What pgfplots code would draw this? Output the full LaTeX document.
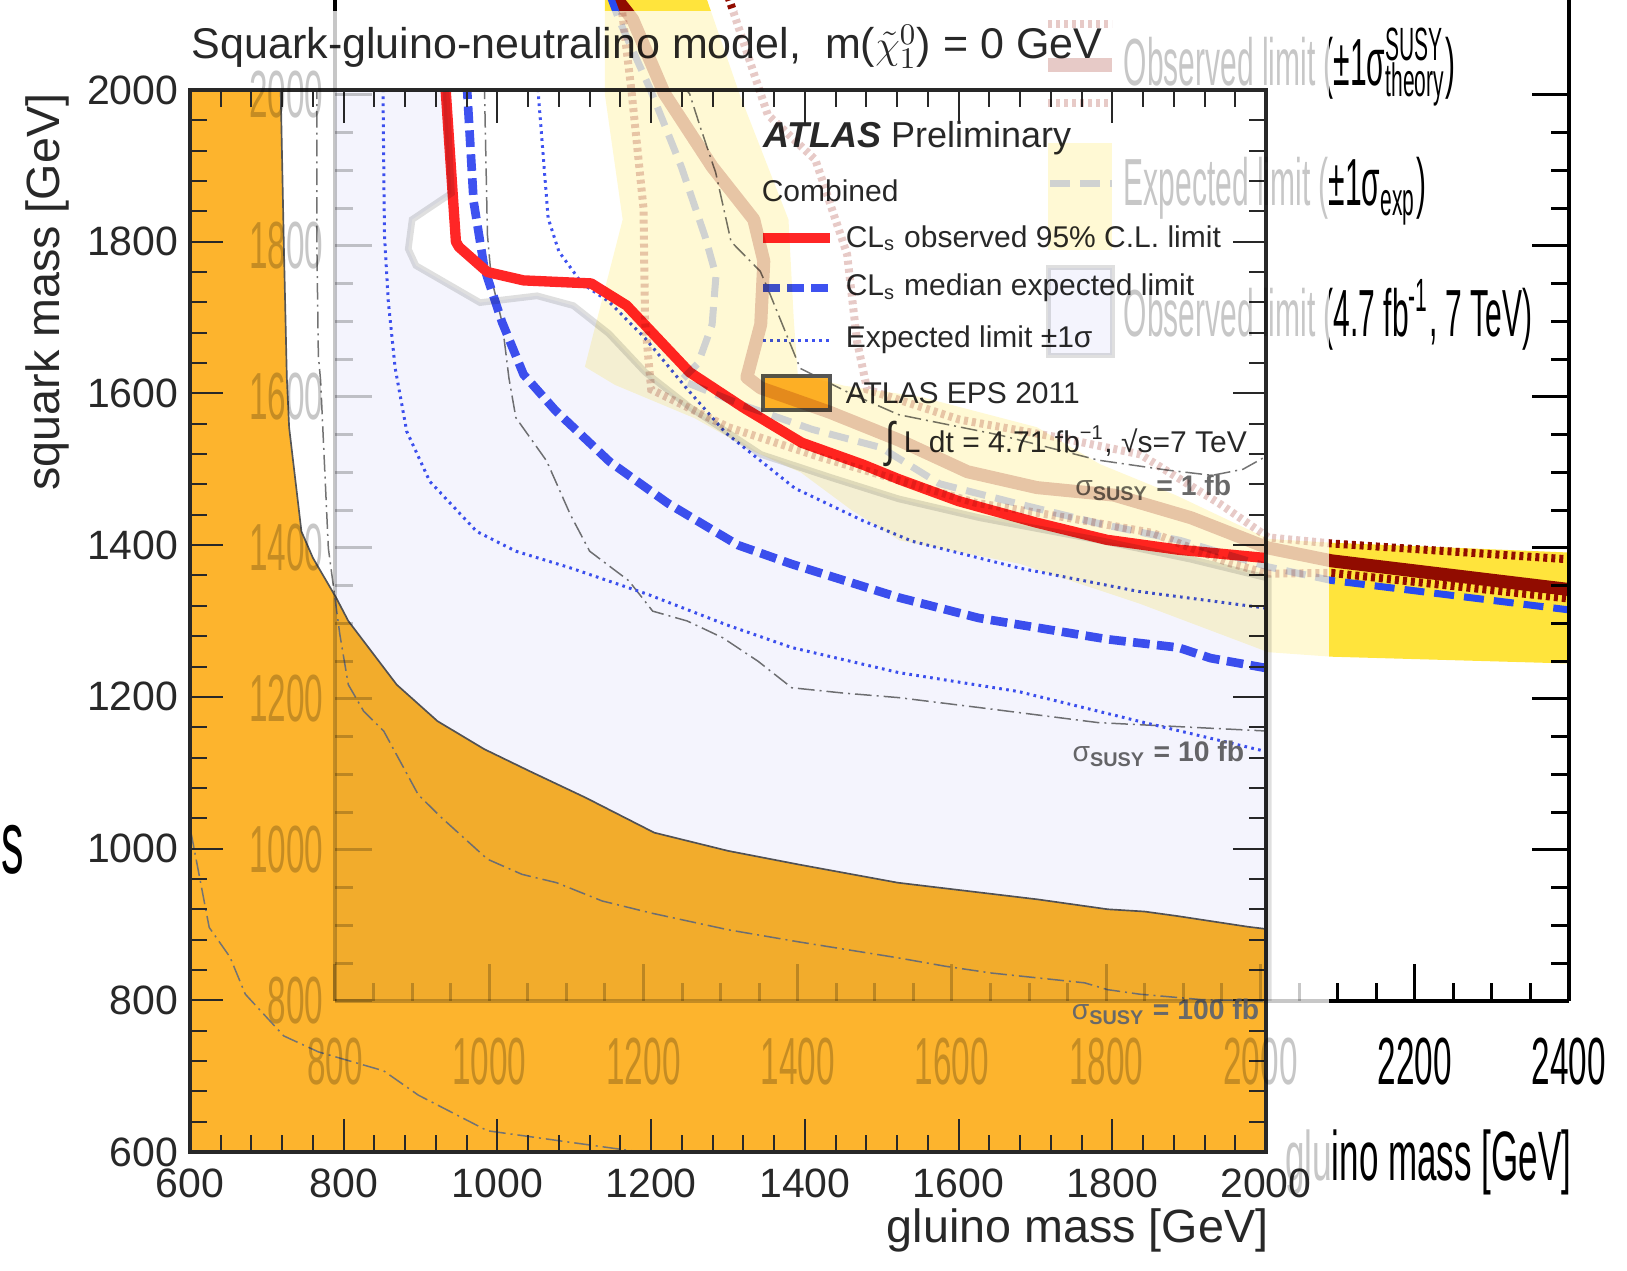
\documentclass[border=0pt]{standalone}
\usepackage{pgfplots}
\pgfplotsset{compat=1.18}
\usepackage{fontspec}
\setmainfont{Liberation Sans}
\newfontfamily\bgfont[FakeStretch=0.5]{Liberation Sans}
\newfontfamily\bgleg[FakeStretch=0.45]{Liberation Sans}

\definecolor{orangeF}{RGB}{253,180,45}
\definecolor{edgegray}{RGB}{85,85,85}
\definecolor{mainred}{RGB}{255,38,38}
\definecolor{mainblue}{RGB}{62,82,240}
\definecolor{sigline}{RGB}{115,115,115}
\definecolor{sigtext}{RGB}{105,105,105}
\definecolor{axisgray}{RGB}{40,40,40}
\definecolor{bgyellow}{RGB}{255,228,60}
\definecolor{bgdarkred}{RGB}{145,12,0}
\definecolor{bgblue}{RGB}{40,75,240}
\definecolor{bglav}{RGB}{205,207,245}
\definecolor{bgline}{RGB}{110,110,110}

\tikzset{
  sigma line/.style={sigline, line width=0.45pt, dash pattern=on 5pt off 1.5pt on 0.6pt off 1.5pt},
  exp band/.style={mainblue, line width=0.9pt, dash pattern=on 0.8pt off 1.3pt},
}

% the older plot that shows through the main one
\newcommand{\bgplot}{%
\begin{axis}[
  at={(100.5pt,80.7pt)}, anchor=south west, scale only axis,
  width=370.2pt, height=300.3pt,
  xmin=800, xmax=2400, ymin=800, ymax=2125.8,
  axis x line*=bottom, axis y line*=box,
  xtick={800,1000,...,2400}, ytick={800,1000,...,2000},
  minor x tick num=3, minor y tick num=3,
  tick align=inside, yticklabel pos=left,
  major tick length=11pt, minor tick length=5.5pt,
  axis line style={line width=1.1pt, black},
  tick style={line width=0.9pt, black},
  ticklabel style={font=\bgfont\fontsize{20}{20}\selectfont},
  xticklabel style={yshift=-7.5pt},
  /pgf/number format/assume math mode=true,
  /pgf/number format/1000 sep={},
  axis on top,
]
% observed limit 4.7 fb-1, 7 TeV
\addplot[fill=bglav, draw=none] coordinates {
  (800,800) (800,2005) (944,2005) (951,1870) (900,1835) (895,1796)
  (905,1774) (988,1725) (1062,1734) (1109,1721) (1155,1684) (1202,1633)
  (1262,1585) (1352,1524) (1441,1494) (1531,1465) (1636,1440) (1792,1410)
  (1910,1385) (2010,1360) (2010,800)} -- cycle;
\addplot[bgline, line width=2pt] coordinates {
  (944,2005) (951,1870) (900,1835) (895,1796)
  (905,1774) (988,1725) (1062,1734) (1109,1721) (1155,1684) (1202,1633)
  (1262,1585) (1352,1524) (1441,1494) (1531,1465) (1636,1440) (1792,1410)
  (1910,1385) (2010,1360) (2010,800)};
% expected +-1 sigma band
\addplot[fill=bgyellow, draw=none] coordinates {
  (1150,2130) (1150,2000) (1173,1835) (1124,1640) (1163,1616) (1266,1572)
  (1343,1528) (1404,1500) (1470,1450) (1532,1410) (1688,1379) (1844,1326)
  (2010,1262) (2092,1256) (2400,1247)
  (2400,1394) (2092,1407) (2010,1412) (1890,1470) (1792,1511) (1710,1560)
  (1560,1600) (1460,1615) (1400,1630) (1395,1700) (1388,1835) (1325,2000)
  (1281,2130)} -- cycle;
% +-1 sigma theory
\addplot[bgdarkred, line width=2.4pt, dash pattern=on 1.2pt off 1.2pt] coordinates {
  (1310,2130) (1361,1974) (1423,1914) (1464,1789) (1477,1673) (1490,1610)
  (1610,1570) (1740,1546) (1844,1524) (1948,1458) (2010,1414) (2092,1406)
  (2400,1385)};
\addplot[bgdarkred, line width=2.4pt, dash pattern=on 1.2pt off 1.2pt] coordinates {
  (1170,2130) (1185,2000) (1200,1850) (1202,1700) (1210,1610) (1310,1560)
  (1430,1520) (1530,1490) (1630,1460) (1750,1440) (1860,1420) (1960,1380)
  (2010,1366) (2092,1367) (2400,1333)};
% observed limit
\addplot[bgdarkred, line width=3.9pt, line join=round] coordinates {
  (1163,2130) (1186,2100) (1227,2002) (1289,1905) (1343,1835) (1356,1780)
  (1352,1696) (1334,1626) (1352,1612) (1441,1580) (1531,1543) (1620,1501)
  (1710,1480) (1810,1470) (1910,1440) (2010,1400) (2092,1383) (2400,1345)};
% expected limit
\addplot[bgblue, line width=2.1pt, dash pattern=on 6pt off 3pt] coordinates {
  (1157,2130) (1168,2100) (1209,2007) (1249,1905) (1280,1812) (1294,1761)
  (1289,1696) (1271,1645) (1249,1622) (1329,1589) (1419,1557) (1508,1533)
  (1584,1485) (1688,1458) (1792,1432) (1896,1410) (2010,1375) (2092,1357)
  (2400,1318)};
\end{axis}
\begin{scope}[x=0.3pt, y=-0.3pt, shift={(0pt,381pt)}]
  \node[anchor=east, font=\bgfont\fontsize{21}{21}\selectfont] at (1583,1162) {gluino mass [GeV]};
  \node[anchor=west, font=\bgfont\fontsize{27}{27}\selectfont] at (-10,850) {s};
  % legend
  \fill[bgdarkred] (1048,58) rectangle (1112,72);
  \draw[bgdarkred, line width=2.4pt, dash pattern=on 1.2pt off 1.2pt] (1048,24) -- (1112,24);
  \draw[bgdarkred, line width=2.4pt, dash pattern=on 1.2pt off 1.2pt] (1048,103) -- (1112,103);
  \fill[bgyellow] (1048,143) rectangle (1112,250);
  \draw[bgblue, line width=2.1pt, dash pattern=on 6pt off 3pt] (1050,184) -- (1112,184);
  \filldraw[fill=bglav, draw=bgline, line width=1.5pt] (1048,268) rectangle (1112,355);
  \begin{scope}[every node/.style={anchor=west, font=\bgleg\fontsize{20}{20}\selectfont}]
    \node at (1112,67) {Observed limit (±1σ\rlap{\textsuperscript{SUSY}}\textsubscript{theory})};
    \node at (1112,191) {Expected limit (±1σ\textsubscript{exp})};
    \node at (1112,315) {Observed limit (4.7 fb\textsuperscript{-1}, 7 TeV)};
  \end{scope}
\end{scope}
}

\begin{document}
\begin{tikzpicture}
\useasboundingbox (0pt,0pt) rectangle (488.1pt,381pt);

% ---------- main plot ----------
\begin{axis}[
  at={(57pt,35.4pt)}, anchor=south west, scale only axis,
  width=322.8pt, height=318.6pt,
  xmin=600, xmax=2000, ymin=600, ymax=2000,
  xtick={600,800,...,2000}, ytick={600,800,...,2000},
  minor tick num=4, tick align=inside,
  major tick length=10pt, minor tick length=5pt,
  axis line style={line width=1.1pt, color=axisgray},
  tick style={line width=0.6pt, color=axisgray},
  ticklabel style={font=\fontsize{12.3}{14}\selectfont, color=axisgray},
  xticklabel style={yshift=-1.5pt},
  /pgf/number format/assume math mode=true,
  /pgf/number format/1000 sep={},
  axis on top,
]
% ATLAS EPS 2011
\addplot[fill=orangeF, draw=edgegray, line width=0.5pt] coordinates {
  (600,600) (600,2000) (718,2000) (722,1800) (726,1620) (729,1555) (745,1418)
  (760,1383) (790,1331) (806,1300) (869,1216) (922,1168) (983,1131) (1042,1102)
  (1115,1067) (1204,1021) (1300,997) (1392,979) (1521,955) (1612,944) (1703,933)
  (1794,920) (1842,917) (1885,911) (1976,897) (2000,894) (2000,600)} -- cycle;
% sigma_SUSY contours
\addplot[sigma line] coordinates {
  (596,1060) (600,1028) (625,896) (652,857) (672,808) (722,753) (767,732)
  (852,707) (897,675) (987,628) (1136,607) (1200,598)};
\addplot[sigma line] coordinates {
  (765,2010) (765,1800) (767,1650) (770,1616) (780,1396) (788,1335) (795,1282)
  (806,1216) (826,1181) (852,1155) (897,1071) (927,1041) (987,986) (1032,966)
  (1077,955) (1136,931) (1200,915) (1300,893) (1392,877) (1521,856) (1582,845)
  (1642,836) (1764,823) (1794,814) (1836,808) (1915,801) (2000,799)};
\addplot[sigma line] coordinates {
  (983,2010) (987,1809) (992,1752) (1006,1694) (1015,1620) (1024,1568)
  (1064,1511) (1095,1440) (1120,1392) (1171,1353) (1202,1313) (1247,1300)
  (1293,1278) (1339,1247) (1383,1212) (1450,1205) (1522,1199) (1626,1186)
  (1782,1166) (2000,1155)};
\addplot[sigma line] coordinates {
  (1238,2010) (1250,1995) (1264,1951) (1284,1891) (1304,1800) (1342,1761)
  (1351,1740) (1394,1633) (1459,1600) (1522,1572) (1654,1545) (1782,1512)
  (1871,1499) (1930,1492) (1970,1500) (2000,1517)};
% expected limit +-1 sigma
\addplot[exp band] coordinates {
  (851,2010) (853,1809) (858,1721) (867,1633) (882,1550) (912,1484) (973,1418)
  (1024,1392) (1095,1370) (1196,1335) (1298,1295) (1383,1265) (1522,1232)
  (1678,1207) (1834,1168) (2000,1128)};
\addplot[exp band] coordinates {
  (1052,2010) (1066,1831) (1080,1787) (1110,1745) (1145,1721) (1192,1673)
  (1245,1608) (1297,1548) (1387,1475) (1476,1432) (1540,1405) (1678,1370)
  (1834,1339) (2000,1317)};
% median expected
\addplot[mainblue, line width=2.6pt, dash pattern=on 5pt off 2.2pt] coordinates {
  (960,2010) (969,1853) (983,1765) (1006,1694) (1034,1625) (1075,1578)
  (1146,1510) (1222,1455) (1313,1400) (1383,1375) (1522,1331) (1626,1304)
  (1793,1276) (1886,1265) (1928,1251) (2000,1238)};
% observed
\addplot[mainred, line width=3.1pt, line join=round] coordinates {
  (932,2010) (946,1800) (950,1793) (987,1760) (1034,1749) (1122,1745)
  (1168,1716) (1250,1628) (1319,1582) (1396,1535) (1476,1506) (1522,1487)
  (1600,1458) (1700,1430) (1793,1407) (1886,1394) (2000,1383)};
\end{axis}

\begin{scope}[x=0.3pt, y=-0.3pt, shift={(0pt,381pt)}, text=axisgray]
  \node[anchor=west, font=\fontsize{12.9}{14}\selectfont] at (180,47)
    {Squark-gluino-neutralino model,\ \ m($\tilde{\chi}^{0}_{1}$) = 0 GeV};
  \node[anchor=east, font=\fontsize{14}{16}\selectfont] at (1280,1230) {gluino mass [GeV]};
  \node[anchor=east, rotate=90, font=\fontsize{14}{16}\selectfont] at (47,82) {squark mass [GeV]};
  \node[anchor=west, font=\fontsize{10.8}{12}\selectfont] at (752,138) {\textbf{\textit{ATLAS}} Preliminary};
  \node[anchor=west, font=\fontsize{9}{11}\selectfont] at (750,191) {Combined};
  \draw[mainred, line width=3.1pt] (763,238) -- (830,238);
  \draw[mainblue, line width=2.6pt, dash pattern=on 5pt off 2.2pt] (763,288) -- (830,288);
  \draw[exp band] (763,340) -- (830,340);
  \filldraw[fill=orangeF, draw=edgegray, line width=1pt] (763,376) rectangle (830,410);
  \begin{scope}[every node/.style={anchor=west, font=\fontsize{9}{11}\selectfont}]
    \node at (834,238) {CL\textsubscript{s} observed 95\% C.L. limit};
    \node at (834,288) {CL\textsubscript{s} median expected limit};
    \node at (834,340) {Expected limit ±1σ};
    \node at (834,393) {ATLAS EPS 2011};
    \node at (874,444) {\raisebox{-0.25ex}{\scalebox{1.2}[1.6]{∫}} L dt = 4.71 fb\textsuperscript{−1}, √s=7 TeV};
  \end{scope}
  \begin{scope}[every node/.style={anchor=east, text=sigtext, font=\bfseries\fontsize{8.5}{10}\selectfont}]
    \node at (1243,488) {{\mdseries σ}\textsubscript{SUSY} = 1 fb};
    \node at (1256,754) {{\mdseries σ}\textsubscript{SUSY} = 10 fb};
    \node at (1271,1012) {{\mdseries σ}\textsubscript{SUSY} = 100 fb};
  \end{scope}
\end{scope}

% ---------- older plot: faded under the main plot, full strength outside it ----------
\begin{scope}
  \clip (8.7pt,0pt) rectangle (398.7pt,377.7pt);
  \begin{scope}[opacity=0.22, blend mode=multiply]
    \bgplot
  \end{scope}
\end{scope}
\begin{scope}
  \clip (0pt,0pt) -- (0pt,381pt) -- (488.1pt,381pt) -- (488.1pt,0pt) -- (398.7pt,0pt)
        -- (398.7pt,377.7pt) -- (8.7pt,377.7pt) -- (8.7pt,0pt) -- cycle;
  \bgplot
\end{scope}
\end{tikzpicture}
\end{document}
